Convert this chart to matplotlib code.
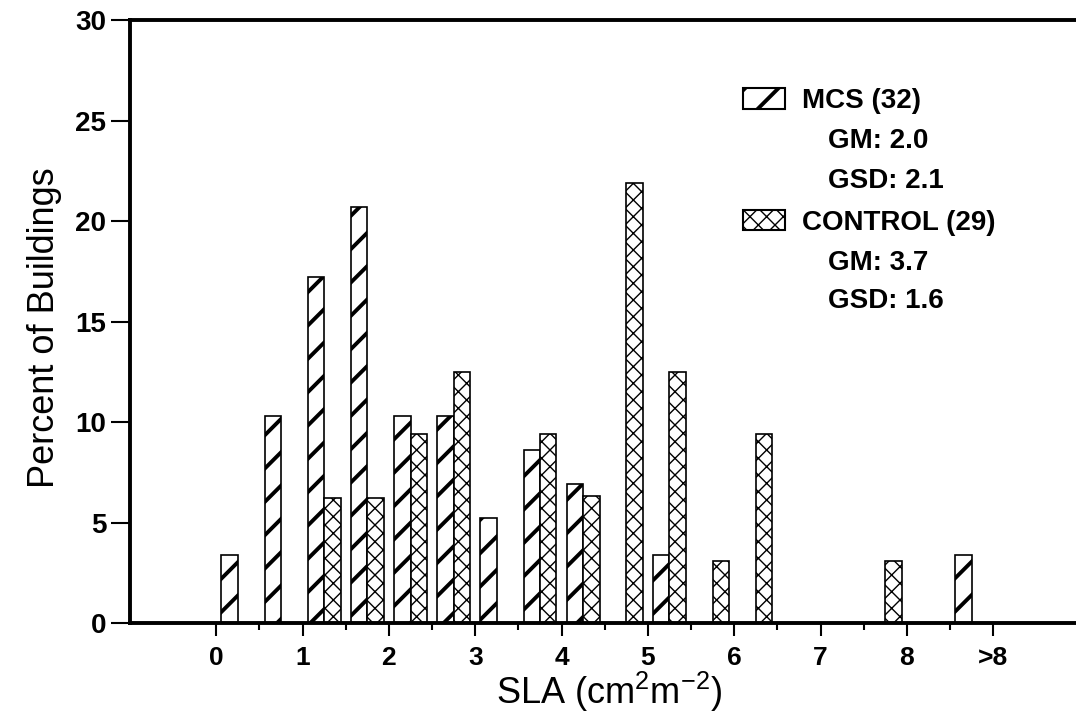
import matplotlib
matplotlib.use("Agg")
import matplotlib.pyplot as plt
from matplotlib.patches import Rectangle

plt.rcParams['font.family'] = ['Liberation Sans', 'DejaVu Sans']
plt.rcParams['mathtext.default'] = 'regular'

# SLA bins, 0.5 wide (start of each bin); the last one is the ">8" class
bin_start = [0.0, 0.5, 1.0, 1.5, 2.0, 2.5, 3.0, 3.5, 4.0, 4.5,
             5.0, 5.5, 6.0, 6.5, 7.0, 7.5, 8.0, 8.5]
mcs = [3.4, 10.3, 17.2, 20.7, 10.3, 10.3, 5.2, 8.6, 6.9, 0,
       3.4, 0, 0, 0, 0, 0, 0, 3.4]
control = [0, 0, 6.2, 6.2, 9.4, 12.5, 0, 9.4, 6.3, 21.9,
           12.5, 3.1, 9.4, 0, 0, 3.1, 0, 0]

tick_pos = [0, 1, 2, 3, 4, 5, 6, 7, 8, 9]
tick_labels = ['0', '1', '2', '3', '4', '5', '6', '7', '8', '>8']

legend_rows = [('MCS (32)', 'GM: 2.0', 'GSD: 2.1'),
               ('CONTROL (29)', 'GM: 3.7', 'GSD: 1.6')]

W = 0.19
fig = plt.figure(figsize=(10.76, 7.18), dpi=100)
ax = fig.add_axes([0.1208, 0.1323, 0.8792, 0.8398])


def hatched_bars(xs, hs, hatch, hlw):
    xs2 = [x for x, h in zip(xs, hs) if h > 0]
    hs2 = [h for h in hs if h > 0]
    with plt.rc_context({'hatch.linewidth': hlw}):
        bars = ax.bar(xs2, hs2, width=W, color='white', edgecolor='black',
                      linewidth=1.2, hatch=hatch, zorder=2)
    for b in bars:
        if hasattr(b, 'set_hatch_linewidth'):
            b.set_hatch_linewidth(hlw)
    return bars


hatched_bars([b + 0.155 for b in bin_start], mcs, '/', 2.8)
hatched_bars([b + 0.345 for b in bin_start], control, 'xx', 1.0)

ax.set_xlim(-1.0, 9.96)
ax.set_ylim(0, 30)
ax.set_yticks([0, 5, 10, 15, 20, 25, 30])
ax.set_xticks(tick_pos)
ax.set_xticklabels(tick_labels)
ax.set_xticks([t + 0.5 for t in tick_pos[:-1]], minor=True)
ax.tick_params(axis='y', which='major', length=14, width=1.5, labelsize=20, pad=3)
ax.tick_params(axis='x', which='major', length=9.5, width=1.5, labelsize=19, pad=7)
ax.tick_params(axis='x', which='minor', length=5, width=1.5)
for lab in ax.get_yticklabels() + ax.get_xticklabels():
    lab.set_fontweight('bold')

for s in ['left', 'bottom', 'top']:
    ax.spines[s].set_linewidth(2.8)
ax.spines['right'].set_visible(False)

ax.set_ylabel('Percent of Buildings', fontsize=26)
ax.yaxis.set_label_coords(-0.072, 0.489)
ax.set_xlabel('SLA (cm$^2$m$^{-2}$)', fontsize=26)
ax.xaxis.set_label_coords(0.506, -0.078)

# legend drawn by hand
patch_y = [0.853, 0.651]
text_y = [[0.871, 0.804, 0.738], [0.668, 0.602, 0.539]]
for (name, gm, gsd), py, ty, hatch, hlw in zip(legend_rows, patch_y, text_y,
                                               ['/', 'xx'], [2.8, 1.0]):
    with plt.rc_context({'hatch.linewidth': hlw}):
        r = Rectangle((0.648, py), 0.0444, 0.034, transform=ax.transAxes,
                      facecolor='white', edgecolor='black', linewidth=1.5,
                      hatch=hatch, clip_on=False)
    if hasattr(r, 'set_hatch_linewidth'):
        r.set_hatch_linewidth(hlw)
    ax.add_patch(r)
    ax.text(0.710, ty[0], name, transform=ax.transAxes, fontsize=20,
            fontweight='bold', va='center_baseline', ha='left')
    ax.text(0.738, ty[1], gm, transform=ax.transAxes, fontsize=20,
            fontweight='bold', va='center_baseline', ha='left')
    ax.text(0.738, ty[2], gsd, transform=ax.transAxes, fontsize=20,
            fontweight='bold', va='center_baseline', ha='left')

fig.savefig('out.png', dpi=100)
